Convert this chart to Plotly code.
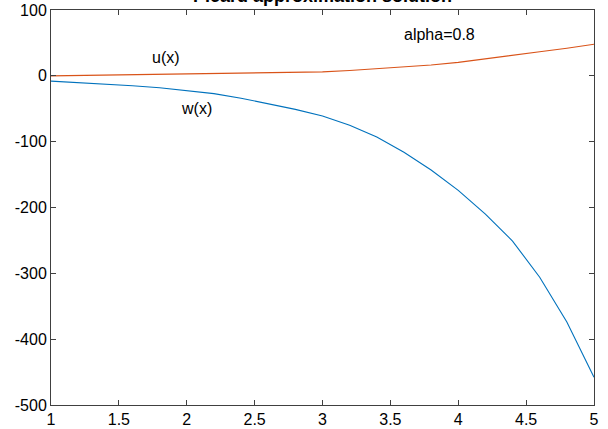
import plotly.graph_objects as go

x_vals = [1.0, 1.2, 1.4, 1.6, 1.8, 2.0, 2.2, 2.4, 2.6, 2.8, 3.0,
          3.2, 3.4, 3.6, 3.8, 4.0, 4.2, 4.4, 4.6, 4.8, 5.0]
u_vals = [0, 0.5, 1, 1.5, 2, 2.5, 3, 3.5, 4, 5, 6,
          8, 10.5, 13, 16.5, 20.5, 25.5, 31, 36.5, 42, 48]
w_vals = [-8, -10, -12, -15, -18, -22, -27, -34, -42, -51, -61,
          -75, -93, -116, -143, -174, -210, -251, -306, -374, -458]

x_ticks = [1, 1.5, 2, 2.5, 3, 3.5, 4, 4.5, 5]
x_tick_labels = ["1", "1.5", "2", "2.5", "3", "3.5", "4", "4.5", "5"]
y_ticks = [-500, -400, -300, -200, -100, 0, 100]
y_tick_labels = ["-500", "-400", "-300", "-200", "-100", "0", "100"]

title_text = "Picard approximation solution"
labels = [("u(x)", 1.85, 28), ("w(x)", 2.07, -50), ("alpha=0.8", 3.86, 63)]

font_family = "Liberation Sans, Arial, sans-serif"

fig = go.Figure()
fig.add_trace(go.Scatter(x=x_vals, y=w_vals, mode="lines", name="w(x)",
                         line=dict(color="#0072BD", width=1.1)))
fig.add_trace(go.Scatter(x=x_vals, y=u_vals, mode="lines", name="u(x)",
                         line=dict(color="#D95319", width=1.1)))

for txt, lx, ly in labels:
    fig.add_annotation(x=lx, y=ly, text=txt, showarrow=False,
                       font=dict(family=font_family, size=16, color="#000000"))

fig.add_annotation(xref="paper", yref="paper", x=0.5, y=1.0, yshift=2,
                   text="<b>" + title_text + "</b>", showarrow=False,
                   xanchor="center", yanchor="bottom",
                   font=dict(family=font_family, size=18, color="#000000"))

axis_common = dict(showline=True, linecolor="#404040", linewidth=1, mirror="ticks",
                   ticks="inside", ticklen=5, tickcolor="#404040", showgrid=False,
                   zeroline=False, automargin=False,
                   tickfont=dict(family=font_family, size=16, color="#000000"))

fig.update_layout(
    width=608, height=429,
    margin=dict(l=51, r=14, t=10, b=24, autoexpand=False),
    paper_bgcolor="#ffffff", plot_bgcolor="#ffffff",
    showlegend=False,
    xaxis=dict(range=[1, 5], tickvals=x_ticks, ticktext=x_tick_labels, **axis_common),
    yaxis=dict(range=[-500, 100], tickvals=y_ticks, ticktext=y_tick_labels, **axis_common),
)

fig.write_html("out.html", config={"displayModeBar": False},
               post_script="document.body.style.margin='0';")
